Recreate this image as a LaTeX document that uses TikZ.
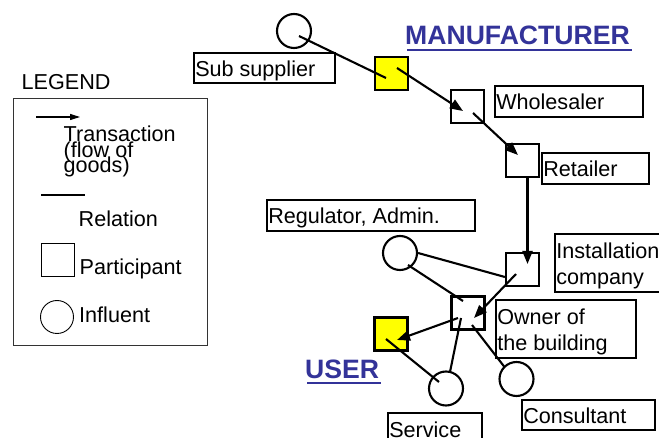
\documentclass[tikz,border=0pt]{standalone}
\usepackage{fontspec}
\setmainfont{Liberation Sans}
\usetikzlibrary{arrows.meta}
\definecolor{ttlblue}{HTML}{333399}
\definecolor{yel}{HTML}{FFFF00}
\newcommand\lbx[2]{\makebox[\dimexpr#1pt-2.4pt\relax][l]{#2}}
\newcommand\twoline[2]{\vtop{\hbox{#1}\hbox{#2}}}
\begin{document}
\begin{tikzpicture}[x=1pt,y=-1pt,
  every node/.style={font=\fontsize{21.6}{26}\selectfont},
  part/.style={draw, rectangle, line width=2.1pt, minimum size=33pt, inner sep=0pt},
  infl/.style={draw, circle, line width=2.1pt, minimum size=34pt, inner sep=0pt},
  tbox/.style={draw, rectangle, line width=2.1pt, inner ysep=0pt, inner xsep=1.2pt,
    text height=16pt, text depth=0pt, anchor=north west},
  tbox2/.style={tbox, text depth=26pt},
  plain/.style={anchor=base west, inner sep=0pt},
  ttl/.style={anchor=base west, inner sep=0pt, text=ttlblue,
    font=\fontsize{26.6}{30}\selectfont\bfseries},
  conn/.style={line width=2.1pt},
  arr/.style={conn, -{Triangle[length=13pt,width=10pt]}},
  lgline/.style={line width=1.1pt}
]
\path[use as bounding box, clip] (0,0) rectangle (659,438);

% ---------- legend ----------
\node[plain] (lgd) at (21.5,90) {LEGEND};
\draw[line width=0.9pt, draw=black!80] (13,98) rectangle (207,345);
\coordinate (la1) at (36,117);
\coordinate (la2) at (80,117);
\draw[lgline, -{Triangle[length=10pt,width=6pt]}] (la1) -- (la2);
\node[plain] (ltr) at (63.5,142) {\vtop{\baselineskip=15.5pt\lineskiplimit=-100pt
  \hbox{Transaction}\hbox{(flow of}\hbox{goods)}}};
\coordinate (lr1) at (41,195);
\coordinate (lr2) at (85,195);
\draw[lgline] (lr1) -- (lr2);
\node[plain] (lrel) at (78.5,227) {Relation};
\node[draw, rectangle, line width=0.9pt, minimum size=33pt, inner sep=0pt] (lsq) at (57.5,259.5) {};
\node[plain] (lpart) at (79.5,275) {Participant};
\node[draw, circle, line width=0.9pt, minimum size=33pt, inner sep=0pt] (lci) at (57,317) {};
\node[plain] (linf) at (79,323) {Influent};

% ---------- titles ----------
\node[ttl] (mfr) at (405,45) {MANUFACTURER};
\draw[ttlblue, line width=1.7pt] ([shift={(2,5)}]mfr.base west) -- ([shift={(2,5)}]mfr.base east);
\node[ttl] (usr) at (305,379) {USER};
\draw[ttlblue, line width=1.7pt] ([shift={(2,4)}]usr.base west) -- ([shift={(2,4)}]usr.base east);

% ---------- chain ----------
\node[infl] (subc) at (294,31) {};
\node[tbox, minimum height=30pt] (subbox) at (193,52) {\lbx{141}{Sub supplier}};
\node[part, fill=yel] (ysq1) at (391.5,73.5) {};
\node[part] (whsq) at (467.5,106.5) {};
\node[tbox, minimum height=31pt] (whbox) at (494,85) {\lbx{148}{Wholesaler}};
\node[part] (rtsq) at (522.5,160.5) {};
\node[tbox, minimum height=31pt] (rtbox) at (541,152) {\lbx{107}{Retailer}};
\node[tbox, minimum height=31pt] (regbox) at (266,199) {\lbx{208}{Regulator, Admin.}};
\node[infl] (regc) at (400,253) {};
\node[part] (inssq) at (522.5,269.5) {};
\node[tbox2, minimum height=58pt] (insbox) at (554,233) {\lbx{112}{\twoline{Installation}{company}}};
\node[part] (ownsq) at (468,313) {};
\node[tbox2, minimum height=58pt] (ownbox) at (495,299) {\lbx{140}{\twoline{Owner of}{the building}}};
\node[part, fill=yel] (usersq) at (391,334) {};
\node[infl] (servc) at (446,388.5) {};
\node[infl] (consc) at (516.5,379) {};
\node[tbox, minimum height=30pt] (consbox) at (521,399) {\lbx{133}{Consultant}};
\node[tbox, minimum height=32pt] (servbox) at (387,412) {\lbx{94}{Service}};

% ---------- connectors ----------
\draw[conn] ([shift={(5,5)}]subc.center) -- ([shift={(-5.5,4.5)}]ysq1.center);
\draw[arr] ([shift={(5.5,-5.5)}]ysq1.center) -- ([shift={(-4.5,4.5)}]whsq.center);
\draw[arr] ([shift={(5.5,6.5)}]whsq.center) -- ([shift={(-4.5,-5.5)}]rtsq.center);
\draw[arr] ([shift={(5,0)}]rtsq.south) -- ([shift={(5,-5.5)}]inssq.center);
\draw[conn] (regc.east) -- ([shift={(0,7.5)}]inssq.west);
\draw[conn] ([shift={(8,12)}]regc.center) -- ([shift={(-5,-12)}]ownsq.center);
\draw[arr] ([shift={(-6.5,4.5)}]inssq.center) -- ([shift={(6,5)}]ownsq.center);
\draw[arr] ([shift={(-10,5)}]ownsq.center) -- ([shift={(6,6)}]usersq.center);
\draw[conn] ([shift={(-5,5)}]usersq.center) -- ([shift={(-7,-6.5)}]servc.center);
\draw[conn] ([shift={(-7,5)}]ownsq.center) -- ([shift={(4,-16.5)}]servc.center);
\draw[conn] ([shift={(4,12)}]ownsq.center) -- ([shift={(-12,-12)}]consc.center);
\end{tikzpicture}
\end{document}
